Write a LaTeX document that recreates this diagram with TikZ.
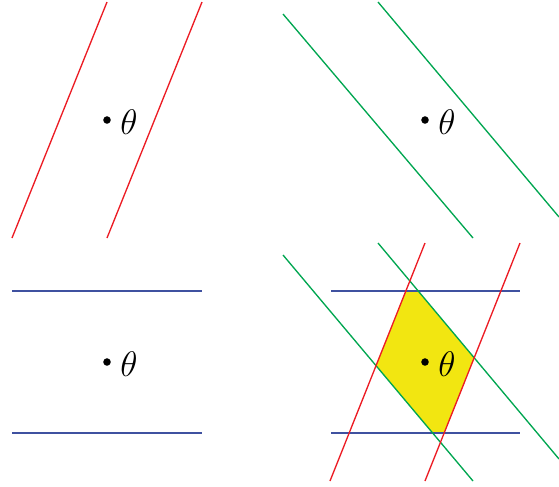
\documentclass[tikz,border=0pt]{standalone}
\usepackage{amsmath,amssymb}
\usepackage{graphicx}
\usepackage{tikz}
\usetikzlibrary{positioning}
\definecolor{lnred}{RGB}{236,28,36}
\definecolor{lngreen}{RGB}{0,166,80}
\definecolor{lnblue}{RGB}{63,81,160}
\definecolor{fillyel}{RGB}{242,230,17}
\newcommand{\thlbl}{\scalebox{1.07}{$\theta$}}
\tikzset{
  redln/.style  = {line width=1pt, lnred},
  grnln/.style  = {line width=1pt, lngreen},
  bluln/.style  = {line width=1pt, lnblue},
  dot/.style    = {circle, fill=black, inner sep=2pt},
  lbl/.style    = {font=\Huge, inner sep=0pt},
}

\begin{document}
\begin{tikzpicture}[x=0.75pt,y=-0.75pt]
  \useasboundingbox (0,0) rectangle (559,486);
  % red strip
  \begin{scope}[shift={(107,120)}]
    \coordinate (a1) at (-95,118);  \coordinate (a2) at (0,-118);
    \coordinate (a3) at (0,118);    \coordinate (a4) at (95,-118);
    \draw[redln] (a1) -- (a2);
    \draw[redln] (a3) -- (a4);
    \node[dot] (pa) at (0,0) {};
    \node[lbl] (ta) at (22,2.5) {\thlbl};
  \end{scope}
  % green strip
  \begin{scope}[shift={(425,120)}]
    \coordinate (b1) at (-142,-106); \coordinate (b2) at (48,118);
    \coordinate (b3) at (-47,-118);  \coordinate (b4) at (134,97);
    \draw[grnln] (b1) -- (b2);
    \draw[grnln] (b3) -- (b4);
    \node[dot] (pb) at (0,0) {};
    \node[lbl] (tb) at (22,2.5) {\thlbl};
  \end{scope}
  % blue strip
  \begin{scope}[shift={(107,362)}]
    \coordinate (c1) at (-95,-71); \coordinate (c2) at (95,-71);
    \coordinate (c3) at (-95,71);  \coordinate (c4) at (95,71);
    \draw[bluln] (c1) -- (c2);
    \draw[bluln] (c3) -- (c4);
    \node[dot] (pc) at (0,0) {};
    \node[lbl] (tc) at (22,2.5) {\thlbl};
  \end{scope}
  % all three, with the common part filled
  \begin{scope}[shift={(425,362)}]
    \coordinate (r1) at (-95,119);   \coordinate (r2) at (0,-119);
    \coordinate (r3) at (0,119);     \coordinate (r4) at (95,-119);
    \coordinate (g1) at (-142,-107); \coordinate (g2) at (48,119);
    \coordinate (g3) at (-47,-119);  \coordinate (g4) at (134,97);
    \coordinate (h1) at (-94,-71);   \coordinate (h2) at (95,-71);
    \coordinate (h3) at (-94,71);    \coordinate (h4) at (95,71);
    \begin{scope}
      \clip (r1) -- (r2) -- (r4) -- (r3) -- cycle;
      \clip (g1) -- (g2) -- (g4) -- (g3) -- cycle;
      \fill[fillyel] (h1) rectangle (h4);
    \end{scope}
    \draw[bluln] (h1) -- (h2);
    \draw[bluln] (h3) -- (h4);
    \draw[grnln] (g1) -- (g2);
    \draw[grnln] (g3) -- (g4);
    \draw[redln] (r1) -- (r2);
    \draw[redln] (r3) -- (r4);
    \node[dot] (pd) at (0,0) {};
    \node[lbl] (td) at (22,2.5) {\thlbl};
  \end{scope}
\end{tikzpicture}
\end{document}
